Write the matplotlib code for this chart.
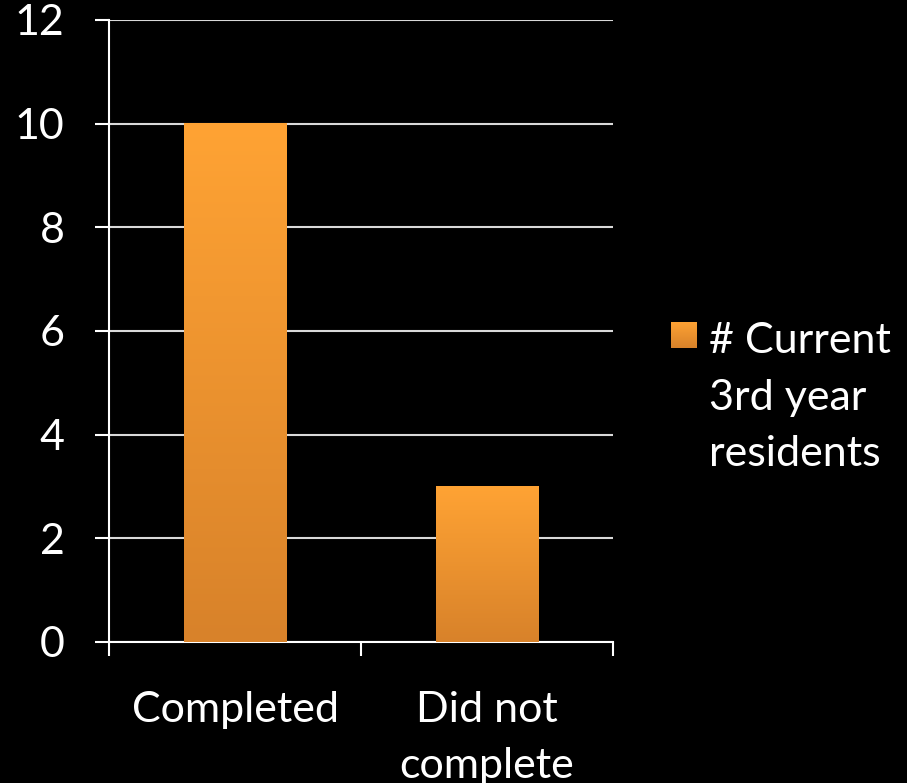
import matplotlib.pyplot as plt
import numpy as np
from matplotlib.colors import LinearSegmentedColormap

categories = ['Completed', 'Did not\ncomplete']
values = [10, 3]
series_name = '# Current\n3rd year\nresidents'
yticks = [0, 2, 4, 6, 8, 10, 12]

plt.rcParams['font.family'] = ['Lato', 'DejaVu Sans']

fig = plt.figure(figsize=(9.07, 7.83), dpi=100, facecolor='black')
ax = fig.add_axes([0.1202, 0.1801, 0.5557, 0.7944], facecolor='black')

grad = LinearSegmentedColormap.from_list('orange', ['#D8822A', '#FFA334'])
col = np.linspace(0, 1, 256).reshape(-1, 1)

width = 0.405
x = np.arange(len(categories))
bars = ax.bar(x, values, width=width, color='none', zorder=3)
for b in bars:
    x0, y0 = b.get_x(), b.get_y()
    ax.imshow(col, cmap=grad, aspect='auto', origin='lower', zorder=3,
              extent=[x0, x0 + b.get_width(), y0, y0 + b.get_height()])

ax.set_xlim(-0.5, len(categories) - 0.5)
ax.set_ylim(0, 12)
ax.set_yticks(yticks)
ax.yaxis.grid(True, color='#D9D9D9', lw=1.5, zorder=1)
ax.set_axisbelow(True)

ax.set_xticks(np.arange(len(categories) + 1) - 0.5, minor=False)
ax.set_xticklabels([''] * (len(categories) + 1))
ax.set_xticks(x, minor=True)
ax.set_xticklabels(categories, minor=True)
ax.tick_params(axis='x', which='minor', length=0, pad=35, labelsize=31,
               colors='white')
ax.tick_params(axis='x', which='major', length=10, width=1.5, color='white')
ax.tick_params(axis='y', length=10, width=1.5, color='white', labelcolor='white',
               labelsize=31, pad=22)
for lab in ax.get_xticklabels(minor=True):
    lab.set_linespacing(1.58)

for s in ['top', 'right']:
    ax.spines[s].set_visible(False)
for s in ['left', 'bottom']:
    ax.spines[s].set_color('white')
    ax.spines[s].set_linewidth(1.5)

# legend
lax = fig.add_axes([671 / 907, 1 - 348 / 783, 26 / 907, 26 / 783])
lax.imshow(col, cmap=grad, aspect='auto', origin='lower')
lax.axis('off')
fig.text(709 / 907, 1 - 322 / 783, series_name, color='white', fontsize=31,
         va='top', ha='left', linespacing=1.6)

fig.savefig('out.png', dpi=100, facecolor='black')
